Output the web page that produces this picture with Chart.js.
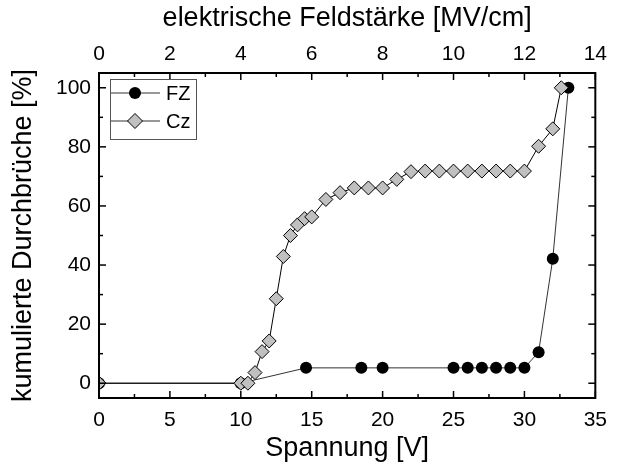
<!DOCTYPE html>
<html>
<head>
<meta charset="utf-8">
<script src="https://cdn.jsdelivr.net/npm/chart.js@4/dist/chart.umd.min.js"></script>
<style>
  html, body { margin: 0; padding: 0; background: #fff; }
  #wrap { width: 617px; height: 465px; }
</style>
</head>
<body>
<div id="wrap"><canvas id="chart" width="617" height="465"></canvas></div>
<script>
// values
const fzVoltage = [0, 10, 14.6, 18.5, 20, 25, 26, 27, 28, 29, 30, 31, 32, 33.1];
const fzPercent = [0, 0, 5.2, 5.2, 5.2, 5.2, 5.2, 5.2, 5.2, 5.2, 5.2, 10.5, 42.1, 100];

const czVoltage = [0, 10, 10.5, 11, 11.5, 12, 12.5, 13, 13.5, 14, 14.5, 15, 16, 17, 18, 19, 20,
                   21, 22, 23, 24, 25, 26, 27, 28, 29, 30, 31, 32, 32.6];
const czPercent = [0, 0, 0, 3.6, 10.7, 14.3, 28.6, 42.9, 50, 53.6, 55.7, 56.3, 62.2, 64.5, 66.1, 66.1, 66.1,
                   69, 71.6, 71.8, 71.8, 71.8, 71.8, 71.8, 71.8, 71.8, 71.8, 80.2, 86.1, 100];

const voltageTicks = [0, 5, 10, 15, 20, 25, 30, 35];
const fieldTicks = [0, 2, 4, 6, 8, 10, 12, 14];
const percentTicks = [0, 20, 40, 60, 80, 100];

const seriesNames = ['FZ', 'Cz'];

const FONT = "'Liberation Sans', Arial, sans-serif";

function toPoints(xs, ys) {
    return xs.map((x, i) => ({ x: x, y: ys[i] }));
}

// frame, inward ticks and the little legend box
const framePlugin = {
    id: 'frame',
    afterDraw(chart) {
        const ctx = chart.ctx;
        const a = chart.chartArea;
        const xs = chart.scales.x, x2 = chart.scales.x2, ys = chart.scales.y;
        ctx.save();
        ctx.strokeStyle = '#000';
        ctx.lineWidth = 1.5;
        // ticks
        const tick = (x1, y1, x2_, y2_) => {
            ctx.beginPath(); ctx.moveTo(x1, y1); ctx.lineTo(x2_, y2_); ctx.stroke();
        };
        for (let v = 0; v <= 35; v += 2.5) {
            const px = xs.getPixelForValue(v);
            const len = (v % 5 === 0) ? 7 : 4;
            tick(px, a.bottom, px, a.bottom - len);
        }
        for (let v = 0; v <= 14; v += 1) {
            const px = x2.getPixelForValue(v);
            const len = (v % 2 === 0) ? 7 : 4;
            tick(px, a.top, px, a.top + len);
        }
        for (let v = 0; v <= 100; v += 10) {
            const py = ys.getPixelForValue(v);
            const len = (v % 20 === 0) ? 7 : 4;
            tick(a.left, py, a.left + len, py);
            tick(a.right, py, a.right - len, py);
        }
        ctx.lineWidth = 2;
        ctx.strokeRect(a.left, a.top, a.right - a.left, a.bottom - a.top);

        // legend
        const lx = 110, ly = 79, lw = 86, lh = 60;
        ctx.lineWidth = 1;
        ctx.strokeStyle = '#555';
        ctx.strokeRect(lx + 0.5, ly + 0.5, lw, lh);
        ctx.font = '20px ' + FONT;
        ctx.textBaseline = 'middle';
        ctx.fillStyle = '#000';
        const rows = [ly + 14, ly + 42];
        rows.forEach((ry, i) => {
            ctx.strokeStyle = '#333';
            ctx.beginPath(); ctx.moveTo(lx + 1, ry); ctx.lineTo(lx + 50, ry); ctx.stroke();
            const cx = lx + 25;
            if (i === 0) {
                ctx.fillStyle = '#000';
                ctx.beginPath(); ctx.arc(cx, ry, 6, 0, Math.PI * 2); ctx.fill();
            } else {
                ctx.fillStyle = '#c0c0c0';
                ctx.strokeStyle = '#000';
                ctx.beginPath();
                ctx.moveTo(cx - 7.5, ry); ctx.lineTo(cx, ry - 7.5);
                ctx.lineTo(cx + 7.5, ry); ctx.lineTo(cx, ry + 7.5);
                ctx.closePath(); ctx.fill(); ctx.stroke();
            }
            ctx.fillStyle = '#000';
            ctx.fillText(seriesNames[i], lx + 56, ry + 1);
        });
        ctx.restore();
    }
};

const ctx = document.getElementById('chart').getContext('2d');
new Chart(ctx, {
    type: 'scatter',
    data: {
        datasets: [
            {
                label: seriesNames[0],
                data: toPoints(fzVoltage, fzPercent),
                showLine: true,
                borderColor: '#333',
                borderWidth: 1,
                pointStyle: 'circle',
                pointRadius: 6,
                pointBackgroundColor: '#000',
                pointBorderColor: '#000',
                pointBorderWidth: 0,
                order: 1
            },
            {
                label: seriesNames[1],
                data: toPoints(czVoltage, czPercent),
                showLine: true,
                borderColor: '#000',
                borderWidth: 1,
                pointStyle: 'rectRot',
                pointRadius: 7,
                pointBackgroundColor: '#c0c0c0',
                pointBorderColor: '#000',
                pointBorderWidth: 1,
                order: 0
            }
        ]
    },
    options: {
        responsive: false,
        animation: false,
        layout: { padding: { left: 0, right: 16, top: 0, bottom: 0 } },
        plugins: { legend: { display: false }, tooltip: { enabled: false } },
        scales: {
            x: {
                type: 'linear',
                position: 'bottom',
                min: 0, max: 35,
                afterBuildTicks: s => { s.ticks = voltageTicks.map(v => ({ value: v })); },
                afterFit: s => { s.height = 67; },
                grid: { display: false, drawTicks: false },
                border: { display: false },
                ticks: { color: '#000', font: { family: FONT, size: 21 }, padding: 10, maxRotation: 0 },
                title: { display: true, text: 'Spannung [V]', color: '#000',
                         font: { family: FONT, size: 27 }, padding: { top: 0, bottom: 0 } }
            },
            x2: {
                type: 'linear',
                position: 'top',
                min: 0, max: 14,
                afterBuildTicks: s => { s.ticks = fieldTicks.map(v => ({ value: v })); },
                afterFit: s => { s.height = 73; },
                grid: { display: false, drawTicks: false },
                border: { display: false },
                ticks: { color: '#000', font: { family: FONT, size: 21 }, padding: 6, maxRotation: 0 },
                title: { display: true, text: 'elektrische Feldstärke [MV/cm]', color: '#000',
                         font: { family: FONT, size: 27 }, padding: { top: 2, bottom: 0 } }
            },
            y: {
                type: 'linear',
                position: 'left',
                min: -5, max: 105,
                afterBuildTicks: s => { s.ticks = percentTicks.map(v => ({ value: v })); },
                afterFit: s => { s.width = 99; },
                grid: { display: false, drawTicks: false },
                border: { display: false },
                ticks: { color: '#000', font: { family: FONT, size: 21 }, padding: 8 },
                title: { display: true, text: 'kumulierte Durchbrüche [%]', color: '#000',
                         font: { family: FONT, size: 27 }, padding: { top: 7, bottom: 0 } }
            }
        }
    },
    plugins: [framePlugin]
});
</script>
</body>
</html>
